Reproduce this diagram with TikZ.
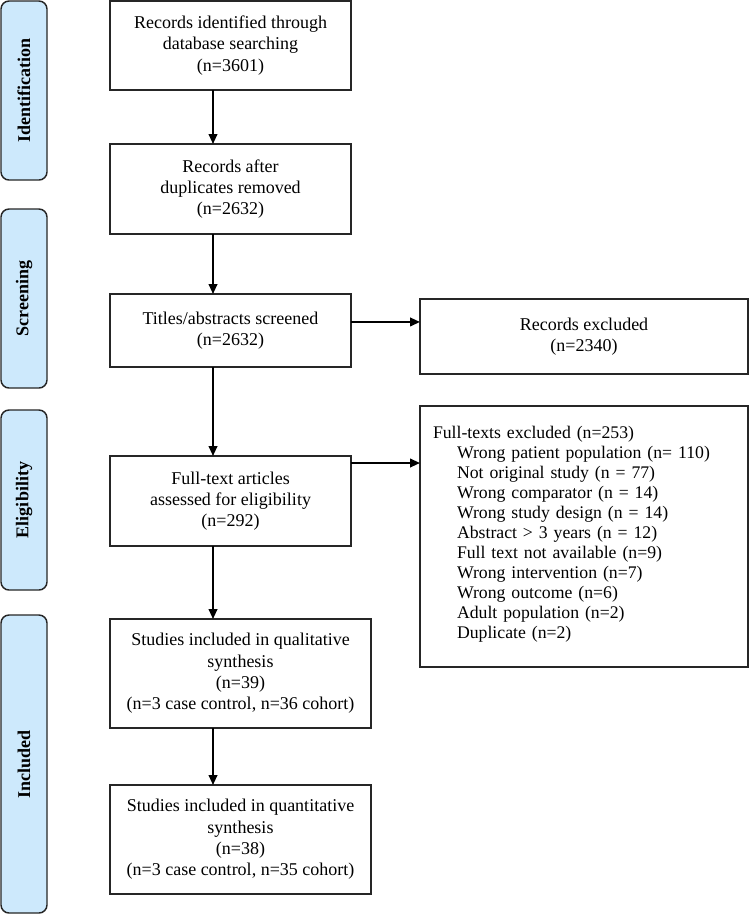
\documentclass[tikz,border=0pt]{standalone}
\usepackage{fontspec}
\setmainfont{Liberation Serif}
\usetikzlibrary{arrows.meta, calc, positioning}
\definecolor{phaseblue}{RGB}{205,233,252}
\newcommand{\indnt}{\hspace*{18pt}}
\tikzset{
>={Triangle[length=7.5pt,width=6.5pt]}, % filled arrow heads
every node/.style={font=\fontsize{13.5pt}{16pt}\selectfont},
box/.style={draw=black!85, line width=1.1pt, outer sep=0pt, align=center, inner sep=4pt, minimum width=180.75pt},
phase/.style={draw=black!85, fill=phaseblue, line width=1.1pt, outer sep=0pt, rounded corners=6pt, minimum width=34.5pt, inner sep=0pt, font=\fontsize{13.5pt}{16pt}\selectfont\bfseries},
arr/.style={->, line width=1.4pt},
}

\begin{document}
\begin{tikzpicture}[node distance=40.5pt]
  \useasboundingbox (0,0) rectangle (562.5pt,-686.25pt);
  % phases down the left side
  \node[phase, minimum height=134.25pt, anchor=north west] (ident) at (0.75pt,-0.75pt) {\rotatebox{90}{Identification}};
  \node[phase, minimum height=134.25pt, below=21.75pt of ident] (screen) {\rotatebox{90}{Screening}};
  \node[phase, minimum height=135pt, below=16.5pt of screen] (elig) {\rotatebox{90}{Eligibility}};
  \node[phase, minimum height=223.5pt, below=18.75pt of elig] (incl) {\rotatebox{90}{Included}};

  % main column
  \node[box, minimum height=66.75pt, anchor=north west] (found) at (82.5pt,-0.75pt) {Records identified through\\database searching\\(n=3601)};
  \node[box, minimum height=67.5pt, below=of found] (dedup) {Records after\\duplicates removed\\(n=2632)};
  \node[box, minimum height=54.75pt, below=45pt of dedup] (screened) {Titles/abstracts screened\\(n=2632)};
  \node[box, minimum height=67.5pt, below=66.75pt of screened] (fulltext) {Full-text articles\\assessed for eligibility\\(n=292)};
  \node[box, minimum width=195.75pt, minimum height=81.75pt, below=54.75pt of fulltext.south west, anchor=north west] (qual) {Studies included in qualitative\\synthesis\\(n=39)\\(n=3 case control, n=36 cohort)};
  \node[box, minimum width=195.75pt, minimum height=81.75pt, below=42.75pt of qual] (quant) {Studies included in quantitative\\synthesis\\(n=38)\\(n=3 case control, n=35 cohort)};

  % exclusions on the right
  \node[box, minimum width=246pt, minimum height=56.25pt, below right=3.75pt and 51.75pt of screened.north east] (recexcl) {Records excluded\\(n=2340)};
  \node[box, minimum width=246pt, minimum height=195.75pt, inner xsep=9.75pt, text width=226.5pt, align=left, below=24pt of recexcl, font=\fontsize{13.3pt}{15pt}\selectfont] (ftexcl) {Full-texts excluded (n=253)\\
    \indnt Wrong patient population (n= 110)\\
    \indnt Not original study (n = 77)\\
    \indnt Wrong comparator (n = 14)\\
    \indnt Wrong study design (n = 14)\\
    \indnt Abstract > 3 years (n = 12)\\
    \indnt Full text not available (n=9)\\
    \indnt Wrong intervention (n=7)\\
    \indnt Wrong outcome (n=6)\\
    \indnt Adult population (n=2)\\
    \indnt Duplicate (n=2)\\[-9pt]\mbox{}};

  % arrows
  \coordinate (spine) at ($(found.south west)+(77.25pt,0)$);
  \draw[arr] (found.south -| spine) -- (dedup.north -| spine);
  \draw[arr] (dedup.south -| spine) -- (screened.north -| spine);
  \draw[arr] (screened.south -| spine) -- (fulltext.north -| spine);
  \draw[arr] (fulltext.south -| spine) -- (qual.north -| spine);
  \draw[arr] (qual.south -| spine) -- (quant.north -| spine);
  \draw[arr] ([yshift=6.4pt]screened.east) -- ([yshift=6.4pt]screened.east -| recexcl.west);
  \draw[arr] ([yshift=-5.25pt]fulltext.north east) -- ([yshift=-5.25pt]fulltext.north east -| ftexcl.west);
\end{tikzpicture}
\end{document}
